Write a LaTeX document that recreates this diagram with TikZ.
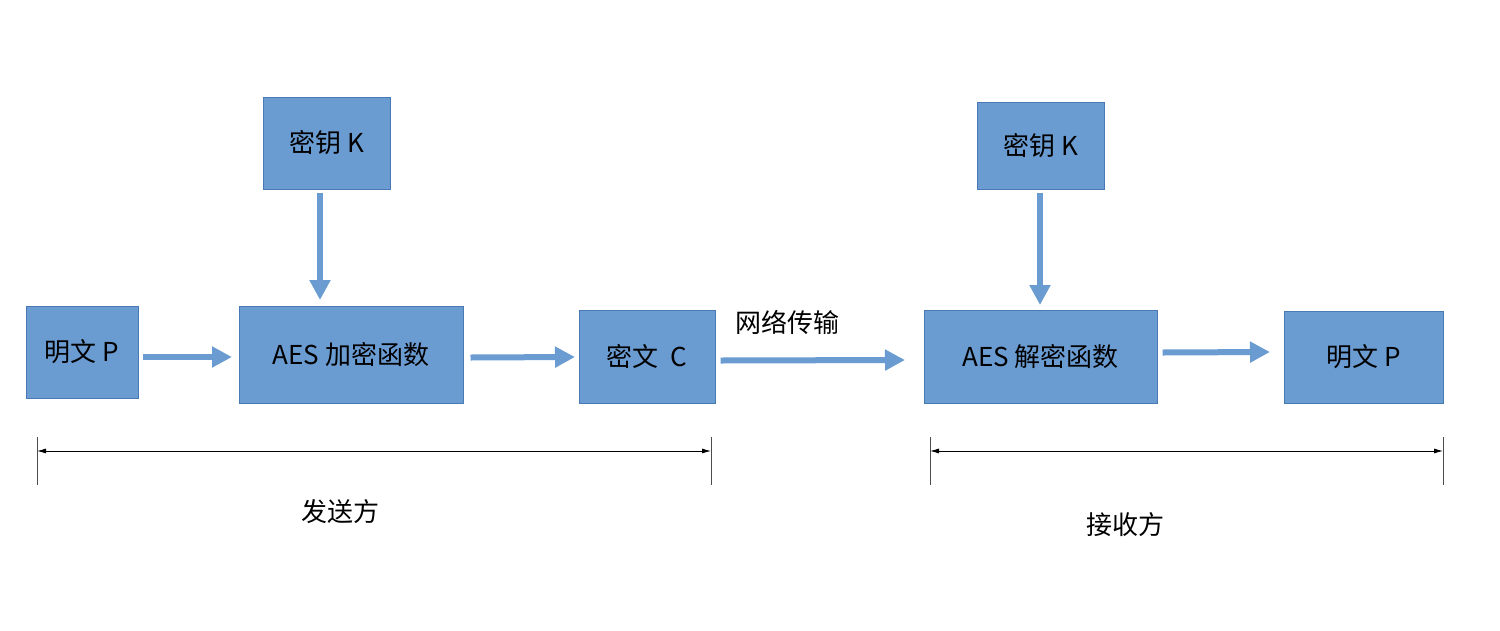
\documentclass[tikz,border=0pt]{standalone}
\usepackage{fontspec}
\setmainfont{Liberation Sans}
\newfontfamily\cjk{Noto Sans CJK SC}
\usetikzlibrary{arrows.meta}
\definecolor{boxfill}{HTML}{6A9BD1}
\definecolor{boxline}{HTML}{4A7AB5}
\begin{document}
\begin{tikzpicture}[x=1pt,y=-1pt,
  box/.style={draw=boxline,fill=boxfill,line width=1pt,inner sep=0pt,font=\fontsize{26}{30}\selectfont\cjk},
  flow/.style={draw=boxfill,line width=6pt,-{Triangle[length=20pt,width=20pt]},shorten >=0pt},
  dim/.style={draw=black,line width=0.8pt,{Latex[length=9pt,width=5pt]}-{Latex[length=9pt,width=5pt]}},
  tick/.style={draw=black!70,line width=0.8pt},
  lab/.style={font=\fontsize{26}{30}\selectfont\cjk}]
\useasboundingbox (0,0) rectangle (1500,630);
\node[box,minimum width=127pt,minimum height=92pt] (k1) at (326.5,143) {密钥 K};
\node[box,minimum width=112pt,minimum height=92pt] (p1) at (82,352) {明文 P};
\node[box,minimum width=224pt,minimum height=97pt] (enc) at (351,354.5) {AES 加密函数};
\node[box,minimum width=136pt,minimum height=93pt] (c) at (647,356.5) {密文 \ C};
\node[box,minimum width=127pt,minimum height=87pt] (k2) at (1040.5,145.5) {密钥 K};
\node[box,minimum width=233pt,minimum height=93pt] (dec) at (1040.5,356.5) {AES 解密函数};
\node[box,minimum width=159pt,minimum height=92pt] (p2) at (1363.5,357) {明文 P};
\draw[flow] (k1.south -| 320,0) ++(0,3) -- (320,300);
\draw[flow] (k2.south -| 1040,0) ++(0,3) -- (1040,305);
\draw[flow] (p1.east) ++(4,5) -- (232,357);
\draw[flow] (enc.east) ++(7,3) -- (575,357);
\draw[flow] (c.east) ++(5,4) -- (905,360);
\draw[flow] (dec.east) ++(5,-4) -- (1270,352);
\node[lab] (net) at (787,322) {网络传输};
\coordinate (l1) at (37,451); \coordinate (l2) at (711,451);
\coordinate (r1) at (930,451); \coordinate (r2) at (1443,451);
\draw[tick] (37,437) -- (37,485); \draw[tick] (711,437) -- (711,485);
\draw[tick] (930,437) -- (930,485); \draw[tick] (1443,437) -- (1443,485);
\draw[dim] (l1) -- (l2);
\draw[dim] (r1) -- (r2);
\node[lab] (s) at (340,512) {发送方};
\node[lab] (r) at (1125,525) {接收方};
\end{tikzpicture}
\end{document}
